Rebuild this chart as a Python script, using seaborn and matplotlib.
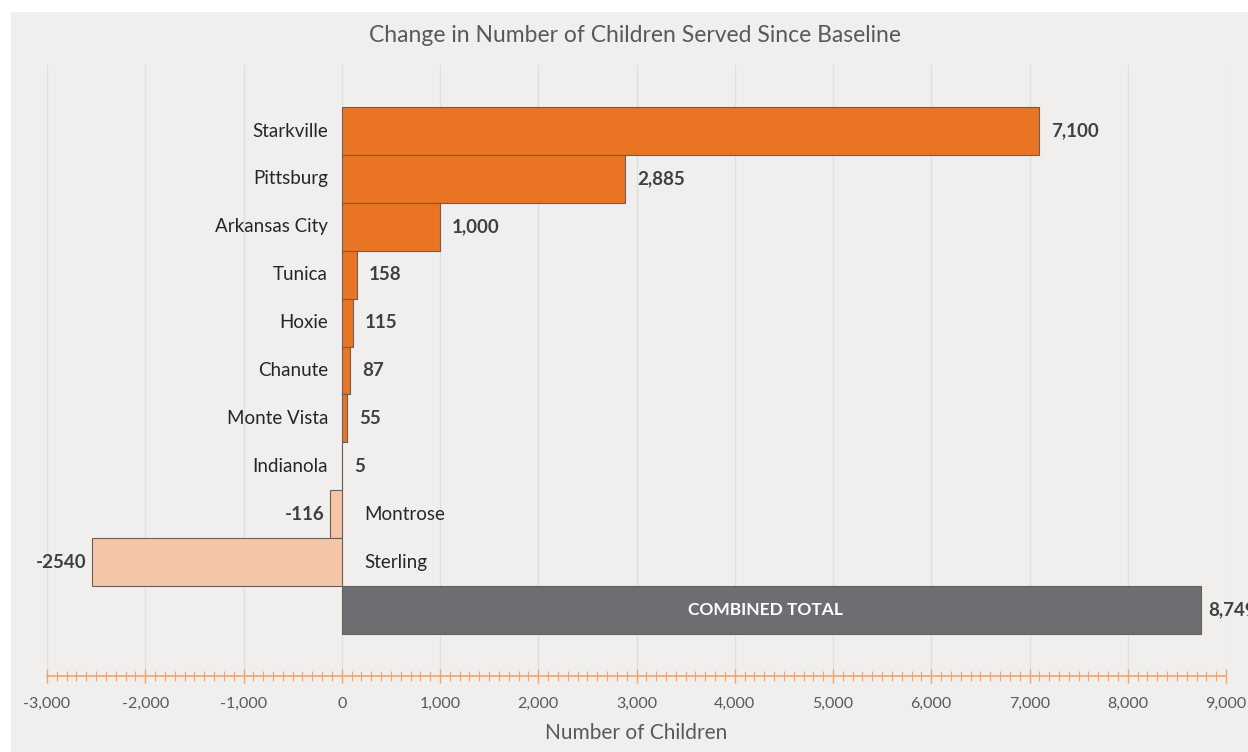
import matplotlib.pyplot as plt
import matplotlib.ticker as mticker
from matplotlib.patches import Rectangle
import seaborn as sns
import pandas as pd

sites = ["Starkville", "Pittsburg", "Arkansas City", "Tunica", "Hoxie", "Chanute",
         "Monte Vista", "Indianola", "Montrose", "Sterling", "COMBINED TOTAL"]
change = [7100, 2885, 1000, 158, 115, 87, 55, 5, -116, -2540, 8749]
value_labels = ["7,100", "2,885", "1,000", "158", "115", "87", "55", "5", "-116", "-2540", "8,749"]

orange = "#E87424"
peach = "#F5C6A5"
grey = "#6E6D72"
colors = [orange] * 8 + [peach] * 2 + [grey]

sns.set_theme(style="white")
plt.rcParams["font.family"] = ["Lato", "DejaVu Sans"]
plt.rcParams["axes.unicode_minus"] = False

df = pd.DataFrame({"site": sites, "change": change})

fig = plt.figure(figsize=(12.48, 7.52), dpi=100, facecolor="white")
fig.patches.append(Rectangle((11 / 1248, 0), 1, 740 / 752, transform=fig.transFigure,
                             facecolor="#F0EFEE", edgecolor="none", zorder=-10))
ax = fig.add_axes([47 / 1248, 1 - 676 / 752, 1179 / 1248, 611 / 752])
ax.set_facecolor("#F0EFEE")

sns.barplot(data=df, x="change", y="site", hue="site", palette=colors, legend=False,
            orient="h", width=1.0, saturation=1, edgecolor="#6A5E58", linewidth=0.8,
            ax=ax, zorder=3)

ax.set_xlim(-3000, 9000)
ax.set_ylim(11.38, -1.38)
ax.set_yticks([])
ax.set_ylabel("")

ax.xaxis.set_major_locator(mticker.MultipleLocator(1000))
ax.xaxis.set_minor_locator(mticker.MultipleLocator(100))
ax.xaxis.set_major_formatter(mticker.StrMethodFormatter("{x:,.0f}"))
ax.tick_params(axis="x", which="both", bottom=True)
ax.tick_params(axis="x", which="major", direction="inout", length=10, width=1,
               color="#F4A46B", labelsize=11.5, labelcolor="#595959", pad=10)
ax.tick_params(axis="x", which="minor", direction="inout", length=7, width=0.8,
               color="#F4A46B")
ax.xaxis.grid(True, which="major", color="#E0DFDD", linewidth=0.9, zorder=0)
ax.set_axisbelow(True)
for s in ["top", "right", "left"]:
    ax.spines[s].set_visible(False)
ax.spines["bottom"].set_color("#F4A46B")
ax.spines["bottom"].set_linewidth(1.2)

ax.set_xlabel("Number of Children", fontsize=15, color="#595959", labelpad=9)
fig.text(635 / 1248, 1 - 36 / 752, "Change in Number of Children Served Since Baseline",
         fontsize=16.5, color="#595959", ha="center", va="center")

for i, (name, val, lab) in enumerate(zip(sites, change, value_labels)):
    if name == "COMBINED TOTAL":
        ax.text(val / 2 - 60, i, name, ha="center", va="center", color="white",
                fontsize=12.5, fontweight="bold")
        ax.text(val + 70, i, lab, ha="left", va="center", color="#404040",
                fontsize=13.5, fontweight="bold")
    elif val >= 0:
        ax.text(-140, i, name, ha="right", va="center", color="#262626", fontsize=13.5)
        ax.text(val + 120, i, lab, ha="left", va="center", color="#404040",
                fontsize=13.5, fontweight="bold")
    else:
        ax.text(230, i, name, ha="left", va="center", color="#262626", fontsize=13.5)
        ax.text(val - 60, i, lab, ha="right", va="center", color="#404040",
                fontsize=13.5, fontweight="bold")

fig.savefig("out.png", dpi=100, facecolor=fig.get_facecolor())
